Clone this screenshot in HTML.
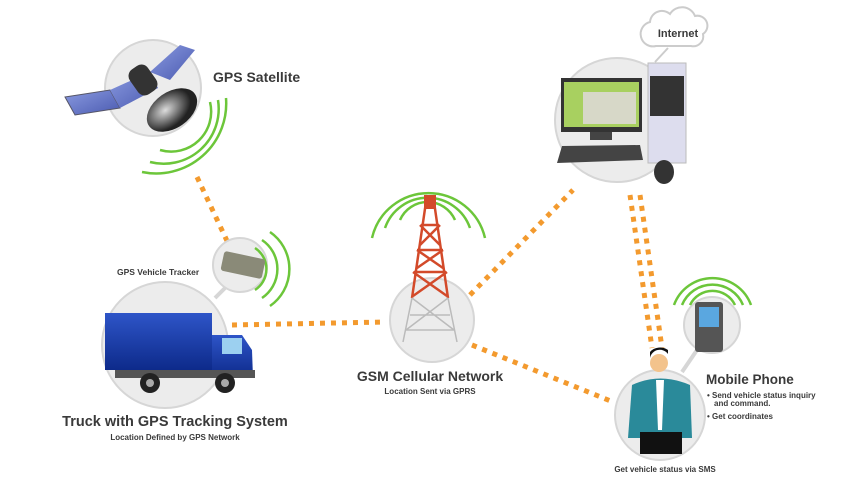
<!DOCTYPE html>
<html><head><meta charset="utf-8"><style>
html,body{margin:0;padding:0;background:#fff}
svg{display:block}
text{font-family:"Liberation Sans",sans-serif;fill:#3a3a3a}
</style></head><body>
<svg width="850" height="480" viewBox="0 0 850 480" xmlns="http://www.w3.org/2000/svg">
<defs>
<linearGradient id="blue" x1="0" y1="0" x2="0" y2="1"><stop offset="0" stop-color="#2e55c8"/><stop offset="1" stop-color="#0d2a8a"/></linearGradient>
<linearGradient id="panel" x1="0" y1="0" x2="1" y2="1"><stop offset="0" stop-color="#8a9ae0"/><stop offset="1" stop-color="#4a5ab0"/></linearGradient>
<radialGradient id="dish" cx="0.4" cy="0.4"><stop offset="0" stop-color="#ddd"/><stop offset="1" stop-color="#222"/></radialGradient>
</defs>
<g fill="none" stroke="#f39a2e" stroke-width="5" stroke-dasharray="5 6">
<line x1="197" y1="177" x2="228" y2="243"/>
<line x1="232" y1="325" x2="385" y2="322"/>
<line x1="470" y1="295" x2="573" y2="190"/>
<line x1="472" y1="345" x2="613" y2="402"/>
<line x1="630" y1="195" x2="652" y2="348"/>
<line x1="640" y1="195" x2="662" y2="348"/>
</g>
<g fill="#ececec" stroke="#d6d6d6" stroke-width="2">
<circle cx="153" cy="88" r="48"/>
<circle cx="240" cy="265" r="27"/>
<circle cx="165" cy="345" r="63"/>
<circle cx="432" cy="320" r="42"/>
<circle cx="617" cy="120" r="62"/>
<circle cx="712" cy="325" r="28"/>
<circle cx="660" cy="415" r="45"/>
</g>
<line x1="225" y1="288" x2="215" y2="298" stroke="#d6d6d6" stroke-width="4"/>
<line x1="697" y1="350" x2="682" y2="372" stroke="#d6d6d6" stroke-width="4"/>
<g fill="none" stroke="#6cc63a" stroke-width="2.5">
<path d="M210 102 A40 40 0 0 1 160 150"/>
<path d="M218 100 A55 55 0 0 1 150 162"/>
<path d="M226 98 A70 70 0 0 1 142 172"/>
<path d="M255 248 A25 25 0 0 1 255 290"/>
<path d="M262 240 A35 35 0 0 1 262 298"/>
<path d="M270 232 A45 45 0 0 1 270 306"/>
<path d="M400 220 A30 30 0 0 1 455 220"/>
<path d="M385 228 A45 45 0 0 1 470 228"/>
<path d="M372 238 A58 58 0 0 1 485 238"/>
<path d="M690 305 A25 25 0 0 1 735 305"/>
<path d="M682 305 A33 33 0 0 1 743 305"/>
<path d="M674 305 A41 41 0 0 1 751 305"/>
</g>
<polygon points="65,97 110,90 120,108 75,115" fill="url(#panel)" stroke="#556" stroke-width="1"/>
<polygon points="110,90 150,72 158,88 120,108" fill="url(#panel)"/>
<polygon points="150,72 180,45 195,50 170,80" fill="url(#panel)"/>
<rect x="132" y="65" width="22" height="30" rx="8" fill="#333" transform="rotate(-35 143 80)"/>
<ellipse cx="172" cy="110" rx="28" ry="18" fill="url(#dish)" transform="rotate(-35 172 110)"/>
<text x="213" y="82" font-size="14" font-weight="bold" fill="#4a4a4a">GPS Satellite</text>
<rect x="222" y="255" width="42" height="20" rx="3" fill="#8a8a78" transform="rotate(12 243 265)"/>
<text x="117" y="275" font-size="8.5" font-weight="bold" fill="#555">GPS Vehicle Tracker</text>
<rect x="105" y="313" width="107" height="57" fill="url(#blue)"/>
<path d="M212 335 L242 335 L252 350 L253 378 L212 378 Z" fill="url(#blue)"/>
<rect x="222" y="338" width="20" height="16" fill="#9cd0f0"/>
<rect x="115" y="370" width="140" height="8" fill="#555"/>
<circle cx="150" cy="383" r="10" fill="#222"/><circle cx="150" cy="383" r="4" fill="#aaa"/>
<circle cx="225" cy="383" r="10" fill="#222"/><circle cx="225" cy="383" r="4" fill="#aaa"/>
<text x="175" y="426" font-size="14.5" font-weight="bold" text-anchor="middle" fill="#333">Truck with GPS Tracking System</text>
<text x="175" y="440" font-size="8" font-weight="bold" text-anchor="middle" fill="#555">Location Defined by GPS Network</text>
<g fill="none" stroke="#d34a2a" stroke-width="2.5">
<path d="M427 195 L412 298 M433 195 L448 298"/>
<rect x="424" y="195" width="12" height="14" fill="#d34a2a" stroke="none"/>
<path d="M420 225 L440 245 M440 225 L420 245 M417 250 L443 268 M443 250 L417 268 M413 272 L447 296 M447 272 L413 296"/>
<line x1="421" y1="225" x2="439" y2="225"/><line x1="417" y1="250" x2="443" y2="250"/><line x1="414" y1="272" x2="446" y2="272"/>
</g>
<g fill="none" stroke="#bbb" stroke-width="1.5"><path d="M412 298 L403 342 M448 298 L457 342 M410 315 L450 315 M406 330 L454 330 M412 298 L454 330 M448 298 L406 330"/></g>
<text x="430" y="381" font-size="14" font-weight="bold" text-anchor="middle" fill="#333">GSM Cellular Network</text>
<text x="430" y="394" font-size="8" font-weight="bold" text-anchor="middle" fill="#555">Location Sent via GPRS</text>
<path d="M650 22 a12 12 0 0 1 20 -8 a14 14 0 0 1 25 2 a10 10 0 0 1 8 18 a10 10 0 0 1 -12 12 h-35 a10 10 0 0 1 -6 -24z" fill="#fff" stroke="#ccc" stroke-width="2"/>
<text x="678" y="37" font-size="11" font-weight="bold" text-anchor="middle" fill="#bbb">Internet</text>
<line x1="668" y1="48" x2="655" y2="62" stroke="#ccc" stroke-width="2"/>
<rect x="561" y="78" width="81" height="54" fill="#333"/>
<rect x="564" y="82" width="75" height="45" fill="#a8d060"/>
<rect x="583" y="92" width="53" height="32" fill="#d7d8c8"/>
<rect x="590" y="132" width="22" height="8" fill="#444"/>
<path d="M562 146 L640 145 L643 160 L557 163 Z" fill="#444"/>
<rect x="648" y="63" width="38" height="100" fill="#dde" stroke="#bbb"/>
<rect x="650" y="76" width="34" height="40" fill="#333"/>
<ellipse cx="664" cy="172" rx="10" ry="12" fill="#333"/>
<rect x="695" y="302" width="28" height="50" rx="3" fill="#555"/>
<rect x="699" y="307" width="20" height="20" fill="#5aa7e0"/>
<circle cx="659" cy="363" r="9" fill="#f3c38c"/>
<path d="M650 358 a10 10 0 0 1 18 -4 l0 -4 a12 10 0 0 0 -18 2 z" fill="#111"/>
<path d="M632 385 Q660 372 690 385 L692 438 L628 438 Z" fill="#2a8a9a"/>
<polygon points="656,380 664,380 662,430 658,430" fill="#fff"/>
<rect x="640" y="432" width="42" height="22" fill="#111"/>
<text x="706" y="384" font-size="13.5" font-weight="bold" fill="#333">Mobile Phone</text>
<text x="707" y="398" font-size="8" font-weight="bold" fill="#444">• Send vehicle status inquiry</text>
<text x="714" y="406" font-size="8" font-weight="bold" fill="#444">and command.</text>
<text x="707" y="419" font-size="8" font-weight="bold" fill="#444">• Get coordinates</text>
<text x="665" y="472" font-size="8" font-weight="bold" text-anchor="middle" fill="#444">Get vehicle status via SMS</text>
</svg>
</body></html>
